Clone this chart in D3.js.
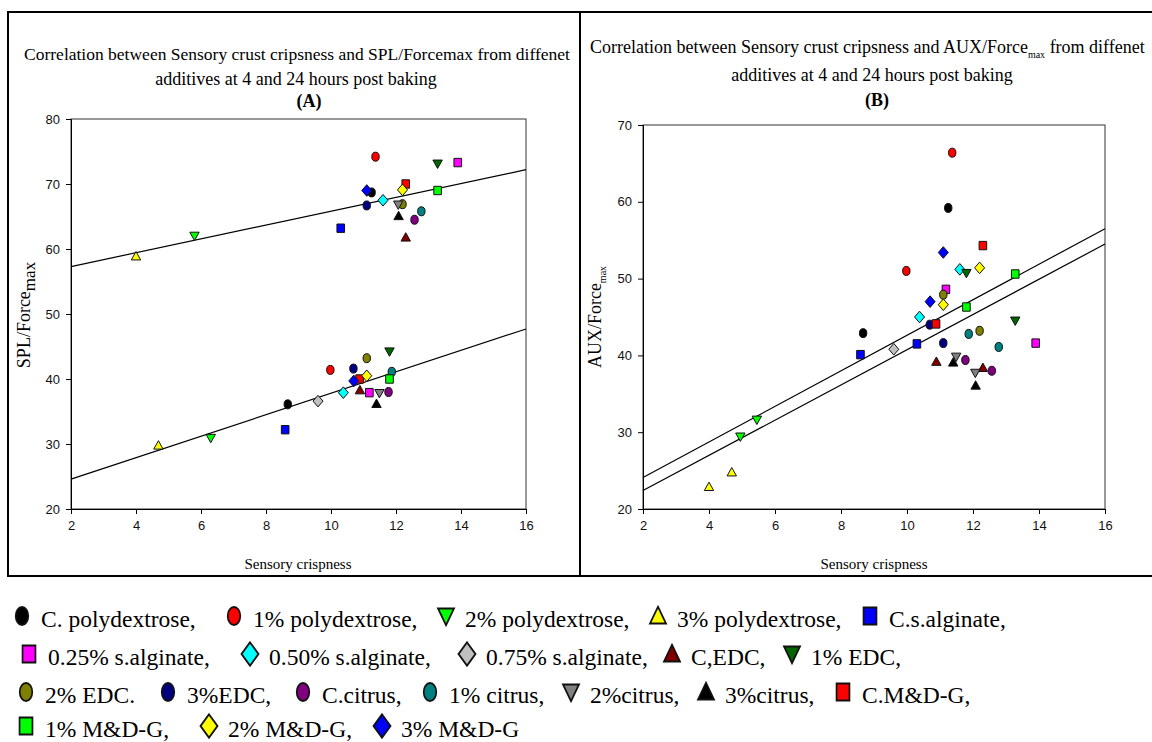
<!DOCTYPE html>
<html>
<head>
<meta charset="utf-8">
<script src="https://cdn.jsdelivr.net/npm/d3@7"></script>
<style>
  body { margin: 0; background: #fff; }
  text { font-family: 'Liberation Serif', 'Times New Roman', serif; }
</style>
</head>
<body>
<svg id="chart" width="1152" height="742"></svg>
<script>
// additives (legend order)
var additives = ['C. polydextrose,', '1% polydextrose,', '2% polydextrose,', '3% polydextrose,', 'C.s.alginate,',
  '0.25% s.alginate,', '0.50% s.alginate,', '0.75% s.alginate,', 'C,EDC,', '1% EDC,',
  '2% EDC.', '3%EDC,', 'C.citrus,', '1% citrus,', '2%citrus,', '3%citrus,', 'C.M&D-G,',
  '1% M&D-G,', '2% M&D-G,', '3% M&D-G'];

// sensory crispness, panel A (first and second storage time)
var crispA1 = [11.25, 11.37, 5.8, 4.0, 10.3, 13.9, 11.6, null, 12.3, 13.28, 12.2, 11.1, 12.57, 12.78, 12.07, 12.08, 12.3, 13.28, 12.2, 11.1];
var crispA2 = [8.67, 9.98, 6.3, 4.69, 8.59, 11.18, 10.38, 9.6, 10.89, 11.8, 11.1, 10.69, 11.77, 11.87, 11.49, 11.4, 10.88, 11.8, 11.1, 10.7];
// sensory crispness, panel B
var crispB1 = [11.25, 11.37, 4.95, 4.0, 10.3, 13.9, 11.6, null, 12.3, 13.28, 12.2, 11.1, 12.57, 12.78, 12.07, 12.08, 12.3, 13.28, 12.2, 11.1];
var crispB2 = [8.67, 9.98, 5.45, 4.69, 8.59, 11.18, 10.38, 9.6, 10.89, 11.8, 11.1, 10.69, 11.77, 11.87, 11.49, 11.4, 10.88, 11.8, 11.1, 10.7];

// SPL/Forcemax (panel A)
var spl1 = [68.7, 74.2, 62.0, 58.9, 63.2, 73.3, 67.5, null, 61.8, 73.1, 66.9, 66.7, 64.5, 65.8, 66.8, 65.1, 70.0, 69.0, 69.1, 69.0];
var spl2 = [36.1, 41.4, 30.9, 29.8, 32.2, 37.9, 37.9, 36.6, 38.3, 44.2, 43.2, 41.6, 38.0, 41.1, 37.8, 36.2, 40.0, 40.0, 40.5, 39.7];

// AUX/Forcemax (panel B)
var aux1 = [59.2, 66.4, 29.4, 22.9, 41.5, 41.6, 51.2, null, 38.4, 44.5, 43.2, 41.6, 38.0, 41.1, 37.7, 36.1, 54.3, 50.6, 51.4, 53.4];
var aux2 = [42.9, 51.0, 31.6, 24.8, 40.1, 48.6, 45.0, 40.8, 39.2, 50.7, 47.9, 44.0, 39.4, 42.8, 39.8, 39.1, 44.1, 46.3, 46.6, 47.0];

// linear trend lines (value at x = 2 and x = 16)
var fitX = [2, 16];
var splFit1 = [57.3, 72.2];
var splFit2 = [24.6, 47.7];
var auxFit1 = [24.1, 56.5];
var auxFit2 = [22.4, 54.5];

var xTicks = [2, 4, 6, 8, 10, 12, 14, 16];
var splTicks = [20, 30, 40, 50, 60, 70, 80];
var auxTicks = [20, 30, 40, 50, 60, 70];

// marker style per additive
var shapes = ['circle', 'circle', 'down', 'up', 'square', 'square', 'diamond', 'diamond', 'up', 'down',
  'circle', 'circle', 'circle', 'circle', 'down', 'up', 'square', 'square', 'diamond', 'diamond'];
var colors = ['#000000', '#ff0000', '#00ff00', '#ffff00', '#0000ff', '#ff00ff', '#00ffff', '#c0c0c0', '#800000', '#006600',
  '#808000', '#000080', '#800080', '#008080', '#808080', '#000000', '#ff0000', '#00ff00', '#ffff00', '#0000ff'];

var svg = d3.select('#chart');
svg.append('rect').attr('width', 1152).attr('height', 742).attr('fill', '#fff');

var paths = {
  square: 'M-3.8,-4.2H3.8V4.2H-3.8Z',
  diamond: 'M0,-5.8L5,0L0,5.8L-5,0Z',
  up: 'M0,-4.6L4.7,3.8L-4.7,3.8Z',
  down: 'M0,4.6L4.7,-3.8L-4.7,-3.8Z'
};

function drawMarker(g, shape, color, cx, cy, kx, ky) {
  var m = g.append('g').attr('transform', 'translate(' + cx + ',' + cy + ') scale(' + kx + ',' + ky + ')');
  if (shape === 'circle') {
    m.append('ellipse').attr('rx', 3.7).attr('ry', 4.5);
  } else {
    m.append('path').attr('d', paths[shape]);
  }
  m.selectAll('*').attr('fill', color).attr('stroke', '#111').attr('stroke-width', 1);
}

// panel borders
svg.append('rect').attr('x', 8).attr('y', 12).attr('width', 572).attr('height', 564)
  .attr('fill', 'none').attr('stroke', '#000').attr('stroke-width', 2);
svg.append('rect').attr('x', 580).attr('y', 12).attr('width', 600).attr('height', 564)
  .attr('fill', 'none').attr('stroke', '#000').attr('stroke-width', 2);

function panel(cfg) {
  var x = d3.scaleLinear().domain([2, 16]).range([cfg.left, cfg.right]);
  var y = d3.scaleLinear().domain([cfg.yTicks[0], cfg.yTicks[cfg.yTicks.length - 1]]).range([cfg.bottom, cfg.top]);
  var g = svg.append('g');

  g.append('rect')
    .attr('x', cfg.left).attr('y', cfg.top)
    .attr('width', cfg.right - cfg.left).attr('height', cfg.bottom - cfg.top)
    .attr('fill', 'none').attr('stroke', '#333').attr('stroke-width', 1);

  var xa = g.append('g')
    .attr('transform', 'translate(0,' + cfg.bottom + ')')
    .call(d3.axisBottom(x).tickValues(xTicks).tickSize(5).tickPadding(7));
  var ya = g.append('g')
    .attr('transform', 'translate(' + cfg.left + ',0)')
    .call(d3.axisLeft(y).tickValues(cfg.yTicks).tickSize(5).tickPadding(6));
  [xa, ya].forEach(function(a) {
    a.select('.domain').attr('stroke', '#000');
    a.selectAll('line').attr('stroke', '#000');
    a.selectAll('text').style('font-family', "'Liberation Sans', Arial, sans-serif")
      .style('font-size', '13px').attr('fill', '#111');
  });

  // trend lines
  var line = d3.line().x(function(d) { return x(d[0]); }).y(function(d) { return y(d[1]); });
  cfg.fits.forEach(function(f) {
    g.append('path')
      .datum(fitX.map(function(v, i) { return [v, f[i]]; }))
      .attr('d', line).attr('fill', 'none').attr('stroke', '#000').attr('stroke-width', 1.2);
  });

  // points, one series per additive
  additives.forEach(function(name, i) {
    cfg.sets.forEach(function(s) {
      if (s[0][i] == null || s[1][i] == null) return;
      drawMarker(g, shapes[i], colors[i], x(s[0][i]), y(s[1][i]), 1, 1);
    });
  });

  // x axis title
  g.append('text')
    .attr('x', cfg.xTitleX).attr('y', 569)
    .attr('text-anchor', 'middle').style('font-size', '15px')
    .text('Sensory crispness');

  // y axis title with subscript
  var yt = g.append('text')
    .attr('transform', 'translate(' + cfg.yTitleX + ',' + cfg.yTitleY + ') rotate(-90)')
    .attr('text-anchor', 'middle').style('font-size', '18px');
  yt.append('tspan').text(cfg.yLabel);
  yt.append('tspan').attr('dy', 5).style('font-size', cfg.subSize + 'px').text('max');
}

panel({
  left: 71, right: 526, top: 119, bottom: 509,
  yTicks: splTicks,
  sets: [[crispA1, spl1], [crispA2, spl2]],
  fits: [splFit1, splFit2],
  xTitleX: 298, yTitleX: 30, yTitleY: 315,
  yLabel: 'SPL/Force', subSize: 17
});

panel({
  left: 643, right: 1105, top: 125, bottom: 509,
  yTicks: auxTicks,
  sets: [[crispB1, aux1], [crispB2, aux2]],
  fits: [auxFit1, auxFit2],
  xTitleX: 874, yTitleX: 601, yTitleY: 317,
  yLabel: 'AUX/Force', subSize: 10
});

// titles
svg.append('text').attr('x', 297).attr('y', 60).attr('text-anchor', 'middle').style('font-size', '17.5px')
  .text('Correlation between Sensory crust cripsness and SPL/Forcemax from diffenet');
svg.append('text').attr('x', 296).attr('y', 85).attr('text-anchor', 'middle').style('font-size', '18px')
  .text('additives at 4 and 24 hours post baking');
svg.append('text').attr('x', 309).attr('y', 107).attr('text-anchor', 'middle').style('font-size', '18px')
  .style('font-weight', 'bold').text('(A)');

var tB = svg.append('text').attr('x', 590).attr('y', 53).style('font-size', '18px');
tB.append('tspan').text('Correlation between Sensory crust cripsness and AUX/Force');
tB.append('tspan').attr('dy', 5).style('font-size', '10px').text('max');
tB.append('tspan').attr('dy', -5).text(' from diffenet');
svg.append('text').attr('x', 872).attr('y', 81).attr('text-anchor', 'middle').style('font-size', '18px')
  .text('additives at 4 and 24 hours post baking');
svg.append('text').attr('x', 877).attr('y', 106).attr('text-anchor', 'middle').style('font-size', '18px')
  .style('font-weight', 'bold').text('(B)');

// legend
var legendRows = [620, 658, 696, 730];
var legendPlace = [[0, 22], [0, 234], [0, 446], [0, 658], [0, 870],
  [1, 29], [1, 250], [1, 467], [1, 672], [1, 792],
  [2, 26], [2, 168], [2, 303], [2, 430], [2, 571], [2, 706], [2, 843],
  [3, 26], [3, 209], [3, 382]];
var legend = svg.append('g');
additives.forEach(function(name, i) {
  var ly = legendRows[legendPlace[i][0]];
  var lx = legendPlace[i][1];
  drawMarker(legend, shapes[i], colors[i], lx, ly - 4, 1.7, 2.0);
  legend.append('text')
    .attr('x', lx + 19).attr('y', ly + 7)
    .style('font-size', '23.5px')
    .text(name);
});
</script>
</body>
</html>
